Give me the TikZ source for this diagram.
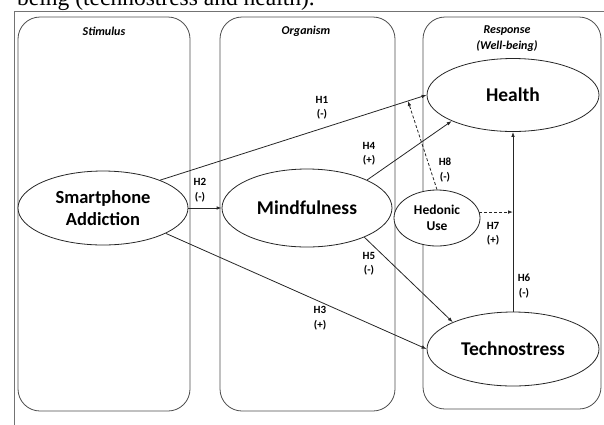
\documentclass[tikz,border=0pt]{standalone}
\usepackage{fontspec}
\setmainfont{Carlito}
\newfontfamily\capserif{Liberation Serif}
\usetikzlibrary{arrows.meta,shapes.geometric,calc}
\begin{document}
\begin{tikzpicture}[x=1pt,y=-1pt,
  panel/.style={draw=black!70, line width=0.8pt, rounded corners=22pt},
  construct/.style={ellipse, draw=black!85, fill=white, line width=0.8pt, inner sep=0pt, align=center, font=\bfseries\fontsize{19.5}{21.5}\selectfont},
  midconstruct/.style={construct, font=\bfseries\fontsize{18.5}{21.5}\selectfont},
  smallconstruct/.style={construct, font=\bfseries\fontsize{13.5}{16}\selectfont},
  header/.style={font=\bfseries\itshape\fontsize{12}{16}\selectfont, align=center, inner sep=0pt},
  hyp/.style={font=\bfseries\fontsize{11}{14.5}\selectfont, align=center, inner sep=0pt},
  link/.style={draw=black!85, line width=0.8pt, -{Latex[length=5pt,width=3.6pt]}},
  dlink/.style={link, dash pattern=on 3pt off 2pt}]
\useasboundingbox (0,0) rectangle (604,424);
\clip (0,0) rectangle (604,424);
% caption fragment
\node[anchor=base west, inner sep=0pt] (cap) at (17,5) {\capserif\fontsize{23.5}{28}\selectfont being (technostress and health).};
% outer frame
\draw[black!55, line width=0.8pt] (14.5,11) rectangle (640,460);
% panels
\draw[panel] (18,17) rectangle (190,411);
\draw[panel] (220,17) rectangle (395,411);
\draw[panel] (423,17) rectangle (601,409);
% headers
\node[header] (hs) at (104,31) {Stimulus};
\node[header] (ho) at (306,31) {Organism};
\node[header] (hr) at (507,39) {Response\\(Well-being)};
% constructs
\node[midconstruct, minimum width=170pt, minimum height=74pt] (sa) at (103,208) {Smartphone\\Addiction};
\node[construct, minimum width=170pt, minimum height=78pt] (mind) at (307,208) {Mindfulness};
\node[construct, minimum width=172pt, minimum height=73pt] (health) at (513,95) {Health};
\node[construct, minimum width=172pt, minimum height=74pt] (techno) at (513,349) {Technostress};
\node[smallconstruct, minimum width=86pt, minimum height=56pt] (hed) at (437,218) {Hedonic\\Use};
% paths
\draw[link] (sa.26) -- (health.180);
\draw[link] (sa) -- (mind);
\draw[link] (sa.-22) -- (techno.180);
\draw[link] (mind.25) -- (health.203);
\draw[link] (mind.-27) -- (techno.156);
\draw[link] (techno.north) -- (health.south);
\coordinate (h8end) at ($(sa.26)!0.93!(health.180)$);
\draw[dlink] (hed.north) -- (h8end);
\coordinate (h7end) at (hed.8 -| health.south);
\draw[dlink] (hed.8) -- (h7end);
% hypothesis labels
\node[hyp] (h1) at (322,108) {H1\\(-)};
\node[hyp] (h2) at (200,190) {H2\\(-)};
\node[hyp] (h3) at (320,318) {H3\\(+)};
\node[hyp] (h4) at (369,154) {H4\\(+)};
\node[hyp] (h5) at (369,264) {H5\\(-)};
\node[hyp] (h6) at (524,286) {H6\\(-)};
\node[hyp] (h7) at (493,234) {H7\\(+)};
\node[hyp] (h8) at (445,170) {H8\\(-)};
\end{tikzpicture}
\end{document}
